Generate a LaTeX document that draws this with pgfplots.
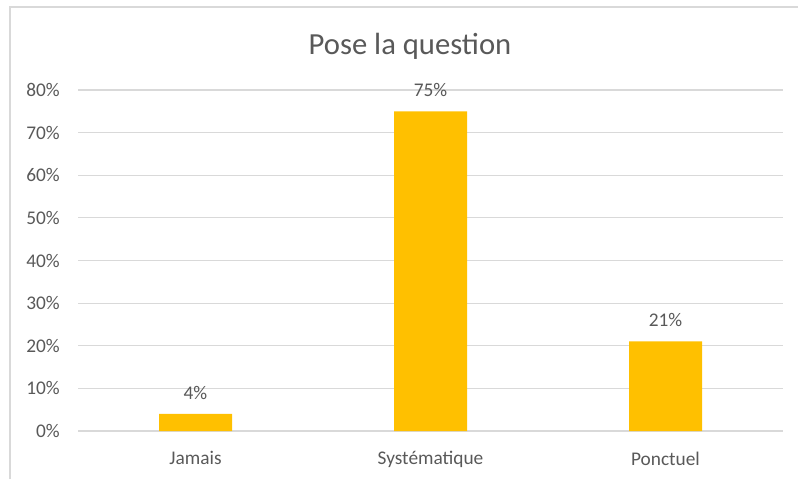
\documentclass[border=0pt]{standalone}
\usepackage{fontspec}
\setmainfont{Carlito}
\usepackage{pgfplots}
\pgfplotsset{compat=1.18}
\definecolor{barc}{HTML}{FFC000}
\definecolor{gridc}{HTML}{D9D9D9}
\definecolor{txt}{HTML}{595959}
\begin{document}
\begin{tikzpicture}
\useasboundingbox (0,0) rectangle (598.5pt,359.25pt);
\draw[gridc, line width=1.5pt] (7.5pt,0pt) -- (7.5pt,354pt) -- (598.5pt,354pt);
\node[txt, font=\fontsize{23}{28}\selectfont, anchor=base, inner sep=0pt] at (307.5pt,318pt) {Pose la question};
\begin{axis}[
  at={(58.5pt,36pt)}, anchor=south west,
  scale only axis,
  width=528.75pt, height=255.75pt,
  ymin=0, ymax=80,
  xmin=-0.5, xmax=2.5,
  ytick={0,10,...,80},
  yticklabel={\pgfmathprintnumber{\tick}\%},
  /pgf/number format/assume math mode=true,
  xtick=data,
  xticklabels={Jamais,Systématique,Ponctuel},
  ymajorgrids,
  grid style={gridc, line width=0.9pt},
  axis line style={draw=none},
  major tick style={draw=none},
  tick label style={txt, font=\fontsize{14.5}{17}\selectfont},
  yticklabel style={inner sep=0pt, anchor=east, xshift=-13.5pt},
  xticklabel style={inner sep=0pt, anchor=north, yshift=-11pt},
  ybar, bar width=54.75pt,
  nodes near coords={\pgfmathprintnumber{\pgfplotspointmeta}\%},
  nodes near coords style={txt, font=\fontsize{14.5}{17}\selectfont, anchor=base, inner sep=0pt, yshift=11pt},
  clip=false,
]
\addplot[fill=barc, draw=none] coordinates {(0,4) (1,75) (2,21)};
\end{axis}
\end{tikzpicture}
\end{document}
